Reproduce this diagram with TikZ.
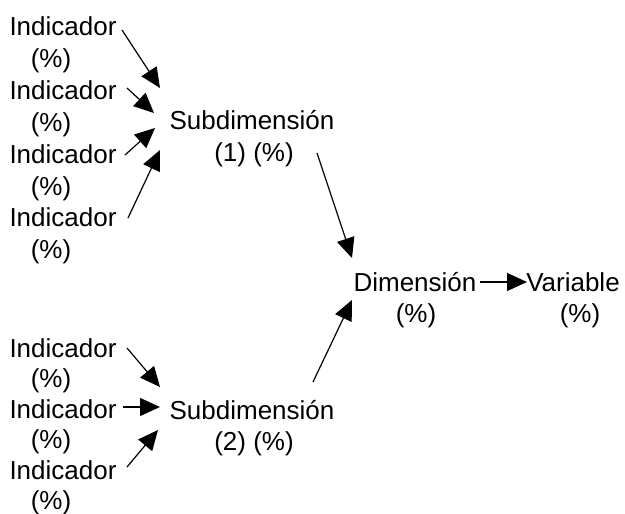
\documentclass[tikz,border=0pt]{standalone}
\usepackage{fontspec}
\setmainfont{Liberation Sans}
\usetikzlibrary{arrows.meta}
\begin{document}
\begin{tikzpicture}[x=1pt,y=-1pt,
  lbl/.style={inner sep=0pt,anchor=base,font=\fontsize{26}{31}\selectfont},
  conn/.style={line width=1.2pt,-{Triangle[length=20pt,width=18pt]}}]
\useasboundingbox (0,0) rectangle (625,514);
% top group indicators
\foreach \i/\y in {1/26,2/90,3/154,4/217}{
  \node[lbl] (ia\i) at (63,\y+9) {Indicador};
  \node[lbl] (pa\i) at (51,\y+32+9) {(\%)};
}
\foreach \i/\y in {1/348,2/409,3/470}{
  \node[lbl] (ib\i) at (63,\y+9) {Indicador};
  \node[lbl] (pb\i) at (51,\y+30+9) {(\%)};
}
\node[lbl] (s1) at (252,129) {Subdimensión};
\node[lbl] (s1b) at (254,161) {(1) (\%)};
\node[lbl] (s2) at (252,419) {Subdimensión};
\node[lbl] (s2b) at (254,450) {(2) (\%)};
\node[lbl] (d) at (415,291) {Dimensión};
\node[lbl] (db) at (416,322) {(\%)};
\node[lbl] (v) at (573,291) {Variable};
\node[lbl] (vb) at (580,322) {(\%)};
% connector end points
\coordinate (a1s) at (122,30); \coordinate (a1e) at (160,88);
\coordinate (a2s) at (127,88); \coordinate (a2e) at (154,113);
\coordinate (a3s) at (125,155); \coordinate (a3e) at (155,128);
\coordinate (a4s) at (128,218); \coordinate (a4e) at (160,150);
\coordinate (b1s) at (127,348); \coordinate (b1e) at (160,387);
\coordinate (b2s) at (123,407); \coordinate (b2e) at (160,407);
\coordinate (b3s) at (127,467); \coordinate (b3e) at (158,430);
\coordinate (c1s) at (317,153); \coordinate (c1e) at (352,258);
\coordinate (c2s) at (313,382); \coordinate (c2e) at (352,300);
\coordinate (dvs) at (480,282); \coordinate (dve) at (527,282);
\foreach \n in {a1,a2,a3,a4,b1,b2,b3,c1,c2,dv}{
  \draw[conn] (\n s) -- (\n e);
}
\end{tikzpicture}
\end{document}
